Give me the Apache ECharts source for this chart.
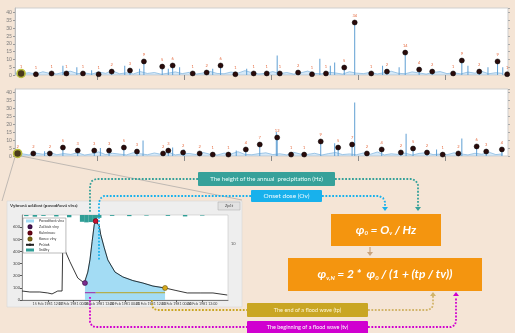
<!DOCTYPE html>
<html>
<head>
<meta charset="utf-8">
<script src="https://cdn.jsdelivr.net/npm/echarts@6/dist/echarts.min.js"></script>
<style>
  html, body { margin: 0; padding: 0; background: #f5e5d6; }
  #chart { width: 515px; height: 333px; }
</style>
</head>
<body>
<div id="chart"></div>
<script>
// ---- Long-term record (decimal years) shown in the two overview panels ----
const spanStart = 1981.06;
const spanEnd = 1986.72;
const yearTicks = [1982, 1983, 1984, 1985, 1986];
const noiseStep = 0.08;

// background precipitation level, one value every noiseStep years
const topNoise = [1.2,0.8,1.5,0.6,2.1,1.0,0.7,1.8,2.4,0.9,1.3,0.6,1.9,1.1,2.6,0.8,1.4,0.7,2.2,1.0,1.6,0.5,1.2,2.0,0.9,1.7,0.6,1.3,2.3,1.0,0.8,1.9,1.2,2.8,1.5,0.7,1.1,2.2,0.9,1.6,0.6,1.4,2.5,1.0,0.8,1.8,1.3,0.6,2.1,1.2,0.9,1.7,0.7,1.5,2.4,1.1,0.8,2.0,1.3,0.6,1.6,2.2,0.9,1.4,0.7,1.9,1.2,2.3,0.8,1.5,1.0];
const bottomNoise = [0.9,1.4,0.7,1.8,1.1,2.3,0.8,1.5,1.0,2.0,0.6,1.3,2.6,0.9,1.7,1.2,0.7,2.1,1.4,0.8,1.9,1.0,2.4,0.7,1.3,1.6,0.9,2.2,1.1,0.6,1.8,1.3,2.7,1.0,0.8,1.5,2.0,0.9,1.4,0.7,2.3,1.2,1.0,1.7,0.6,1.5,2.2,0.9,1.3,0.8,1.9,1.1,2.5,0.7,1.4,1.0,1.8,0.6,1.6,2.1,0.9,1.2,0.8,2.0,1.3,0.7,1.7,1.1,2.4,0.9,1.3];

// isolated precipitation spikes [year, value]
const topSpikes = [[1981.61,6],[1981.77,5],[1981.94,3],[1982.32,6],[1982.49,4],[1982.82,4],[1982.95,5],[1983.33,4],[1983.72,4],[1984.07,12.5],[1984.56,10.5],[1984.68,6],[1984.73,8],[1985.28,6],[1985.47,5],[1986.26,6],[1986.49,5],[1986.66,5]];
const bottomSpikes = [[1981.40,3],[1982.04,5],[1982.53,9.7],[1982.87,5.3],[1983.00,4],[1983.60,3.5],[1984.06,15],[1984.73,8],[1984.96,33.5],[1985.55,14],[1985.90,4],[1986.19,11]];

// detected flood events [year, value]; the first one is the selected event
const topEvents = [[1981.13,1.0],[1981.30,0.5],[1981.48,1.0],[1981.65,1.0],[1981.84,1.0],[1982.02,0.5],[1982.17,2.2],[1982.38,2.9],[1982.54,8.7],[1982.75,5.4],[1982.87,6.1],[1983.10,1.0],[1983.26,1.6],[1983.42,6.1],[1983.59,0.5],[1983.80,1.0],[1983.95,1.0],[1984.10,1.0],[1984.31,1.6],[1984.47,0.5],[1984.63,1.0],[1984.84,4.8],[1984.96,33.7],[1985.15,1.0],[1985.33,2.2],[1985.54,14.4],[1985.70,3.5],[1985.85,2.2],[1986.09,1.0],[1986.19,9.3],[1986.39,2.2],[1986.60,8.7],[1986.71,0.5]];
const bottomEvents = [[1981.09,1.6],[1981.27,1.6],[1981.46,1.6],[1981.61,5.3],[1981.78,3.4],[1981.97,3.4],[1982.14,3.4],[1982.31,5.3],[1982.46,2.8],[1982.76,1.6],[1982.82,3.4],[1982.99,2.2],[1983.18,1.6],[1983.33,0.9],[1983.51,0.9],[1983.71,4.1],[1983.87,7.2],[1984.07,11.6],[1984.23,0.9],[1984.38,0.9],[1984.57,9.1],[1984.77,5.3],[1984.93,7.2],[1985.10,1.6],[1985.27,4.1],[1985.49,2.2],[1985.63,4.7],[1985.79,2.2],[1985.97,0.9],[1986.15,1.6],[1986.36,6.0],[1986.47,2.8],[1986.65,4.1]];

// ---- Selected event (detail view) ----
const eventBase = Date.UTC(1981, 1, 14, 0, 0);
const eventHours = [0,11,25,36,42,50,56,57,67,78,87,88,92,95,98,101,103,108,110,115,120,130,141,155,169,183,200,214,231,249,267,287];
const eventFlow  = [74,66,66,58,50,74,74,450,315,181,140,140,230,330,480,620,650,610,540,430,330,230,190,160,140,115,99,80,58,58,58,41];
const precipHours = [6,18,30,48,66,84,90,96,102,108,126,150,174,204,228,252];
const precipVals  = [0.4,0.6,0.3,0.5,0.8,2.4,2.6,2.5,2.3,1.0,0.3,0.4,0.2,0.3,0.5,0.2];
const waveStart = 88, wavePeak = 103, waveEnd = 200;
const durationLevel = 60;
const months = ['Jan','Feb','Mar','Apr','May','Jun','Jul','Aug','Sep','Oct','Nov','Dec'];

const flowData = eventHours.map((h, i) => [h, eventFlow[i]]);
const flowAt = h => eventFlow[eventHours.indexOf(h)];
const waveData = flowData.filter(p => p[0] >= waveStart && p[0] <= waveEnd);
const precipData = precipHours.map((h, i) => [h, precipVals[i]]);

function fmtDate(h) {
  const d = new Date(eventBase + h * 3600e3);
  const p = n => String(n).padStart(2, '0');
  return d.getUTCDate() + ' ' + months[d.getUTCMonth()] + ' ' + d.getUTCFullYear() + ' ' + p(d.getUTCHours()) + ':' + p(d.getUTCMinutes());
}

const stemColor = '#5f9fd3';
function panelSeries(xi, yi, noise, spikes, events) {
  return [
    { type: 'line', xAxisIndex: xi, yAxisIndex: yi, silent: true, symbol: 'none',
      data: noise.map((v, i) => [spanStart + i * noiseStep, v]),
      lineStyle: { color: '#7db2dc', width: 0.7 },
      areaStyle: { color: 'rgba(140,192,236,0.5)' }, z: 2 },
    { type: 'bar', xAxisIndex: xi, yAxisIndex: yi, silent: true, data: spikes,
      barWidth: 1, barGap: '-100%', itemStyle: { color: stemColor }, z: 3 },
    { type: 'bar', xAxisIndex: xi, yAxisIndex: yi, silent: true, data: events,
      barWidth: 1, barGap: '-100%', itemStyle: { color: stemColor }, z: 3 },
    { type: 'scatter', xAxisIndex: xi, yAxisIndex: yi, data: events, symbolSize: 5,
      itemStyle: { color: '#2a0b0b', borderColor: '#000', borderWidth: 0.5, opacity: 1 },
      label: { show: true, position: 'top', distance: 2, fontSize: 4, color: '#e4683c',
               formatter: p => Math.round(p.value[1]) }, z: 5 },
    { type: 'scatter', xAxisIndex: xi, yAxisIndex: yi, data: [events[0]], symbolSize: 8,
      itemStyle: { color: '#4a3a1c', borderColor: '#b9bd3c', borderWidth: 1.6, opacity: 1 }, z: 6 }
  ];
}

const overviewX = gi => ({
  gridIndex: gi, type: 'value', min: spanStart, max: spanEnd, position: 'top',
  axisLine: { show: false },
  axisTick: { show: true, inside: true, length: 5, customValues: yearTicks, lineStyle: { color: '#8a8a8a' } },
  axisLabel: { show: false }, splitLine: { show: false }
});
const overviewY = (gi, max) => ([
  { gridIndex: gi, type: 'value', min: 0, max: max, interval: 5,
    axisLine: { show: true, lineStyle: { color: '#bdbdbd' } },
    axisTick: { show: true, length: 2, lineStyle: { color: '#999' } },
    axisLabel: { fontSize: 5, color: '#7a7a7a', margin: 3, showMaxLabel: false, fontFamily: 'Lato' },
    splitLine: { show: false } },
  { gridIndex: gi, type: 'value', min: 0, max: max, interval: 5, position: 'right',
    axisLine: { show: false },
    axisTick: { show: true, length: 2, lineStyle: { color: '#aaa' } },
    axisLabel: { show: false }, splitLine: { show: false } }
]);

// ---- Annotation helpers ----
const dotted = (pts, color) => ({
  type: 'polyline', z: 100, shape: { points: pts },
  style: { stroke: color, lineWidth: 1.8, lineDash: [1.8, 1.6], fill: null }
});
const arrow = (x, y, dir, color) => ({
  type: 'polygon', z: 101,
  shape: { points: dir === 'down' ? [[x - 3, y - 4], [x + 3, y - 4], [x, y]] : [[x - 3, y + 4], [x + 3, y + 4], [x, y]] },
  style: { fill: color }
});
const box = (x, y, w, h, fill, text, fontSize, color) => ([
  { type: 'rect', z: 100, shape: { x: x, y: y, width: w, height: h, r: 1 }, style: { fill: fill } },
  { type: 'text', z: 101, x: x + w / 2, y: y + h / 2,
    style: { text: text, fill: color, fontSize: fontSize, fontFamily: 'Lato', align: 'center', verticalAlign: 'middle' } }
]);
const formulaRich = {
  i: { fontSize: 12, fontWeight: 'bold', fontStyle: 'italic', fill: '#fff', fontFamily: 'Lato' },
  s: { fontSize: 6, fontWeight: 'bold', fontStyle: 'italic', fill: '#fff', fontFamily: 'Lato', padding: [7, 0, 0, 0] }
};

const teal = '#36a19a', sky = '#18b1ec', olive = '#c9a623', magenta = '#d000d0', orange = '#f4950f';

const graphics = [
  // detail panel frame
  { type: 'rect', z: -10, shape: { x: 7, y: 201, width: 235, height: 106 }, style: { fill: '#eeeeee', stroke: '#d6d6d6', lineWidth: 0.6 } },
  { type: 'text', z: 5, x: 10, y: 203, style: { text: 'Vybraná událost (povodňová vlna)', fontSize: 4.5, fontWeight: 'bold', fill: '#333', fontFamily: 'Lato' } },
  { type: 'rect', z: 5, shape: { x: 218, y: 202, width: 22, height: 8 }, style: { fill: '#e2e2e2', stroke: '#aaa', lineWidth: 0.5 } },
  { type: 'text', z: 6, x: 229, y: 206, style: { text: 'Zpět', fontSize: 4, fill: '#444', fontFamily: 'Lato', align: 'center', verticalAlign: 'middle' } },
  // lens lines from the selected event to the detail panel
  { type: 'line', z: 50, shape: { x1: 15, y1: 157, x2: 2, y2: 201 }, style: { stroke: '#9a9a9a', lineWidth: 0.6 } },
  { type: 'line', z: 50, shape: { x1: 21, y1: 156, x2: 242, y2: 200 }, style: { stroke: '#9a9a9a', lineWidth: 0.6 } },
  // connectors
  dotted([[198, 179], [96, 179], [92, 181], [90, 185], [90, 213]], teal),
  dotted([[335, 179], [412, 179], [416, 181], [418, 185], [418, 207]], teal),
  arrow(418, 211, 'down', teal),
  dotted([[251, 196], [104, 196], [101, 198], [99, 202], [99, 260]], sky),
  dotted([[322, 196], [379, 196], [383, 198], [385, 202], [385, 207]], sky),
  arrow(385, 211, 'down', sky),
  dotted([[152, 300], [152, 306], [154, 309], [157, 310], [247, 310]], olive),
  dotted([[368, 310], [428, 310], [432, 308], [433, 304], [433, 296]], '#d2b46a'),
  arrow(433, 292, 'up', '#d2b46a'),
  dotted([[90, 297], [90, 322], [92, 326], [95, 327], [247, 327]], magenta),
  dotted([[368, 327], [451, 327], [455, 325], [456, 321], [456, 297]], magenta),
  arrow(456, 292, 'up', magenta),
  { type: 'line', z: 100, shape: { x1: 370, y1: 247, x2: 370, y2: 252 }, style: { stroke: '#c9a27c', lineWidth: 1.2 } },
  arrow(370, 256, 'down', '#c9a27c'),
  ...box(198, 172, 137, 14, teal, 'The height of the annual  precipitation (Hz)', 6, '#eafffb'),
  ...box(251, 190, 71, 12, sky, 'Onset dose (Ov)', 6.5, '#f2fbff'),
  ...box(247, 303, 121, 14, olive, 'The end of a flood wave (tp)', 5.5, '#fff7d6'),
  ...box(247, 321, 121, 13, magenta, 'The beginning of a flood wave (tv)', 5.5, '#ffffff'),
  { type: 'rect', z: 100, shape: { x: 331, y: 214, width: 110, height: 32 }, style: { fill: orange } },
  { type: 'text', z: 101, x: 386, y: 230,
    style: { text: '{i|φ}{s|0}{i| = O}{s|v}{i| / Hz}', rich: formulaRich, align: 'center', verticalAlign: 'middle' } },
  { type: 'rect', z: 100, shape: { x: 288, y: 258, width: 194, height: 33 }, style: { fill: orange } },
  { type: 'text', z: 101, x: 385, y: 274.5,
    style: { text: '{i|φ}{s|v,N}{i| = 2 *  φ}{s|0}{i| / (1 + (tp / tv))}', rich: formulaRich, align: 'center', verticalAlign: 'middle' } }
];

const chart = echarts.init(document.getElementById('chart'), null, { renderer: 'canvas' });
chart.setOption({
  animation: false,
  backgroundColor: '#f5e5d6',
  textStyle: { fontFamily: 'Lato' },
  grid: [
    { left: 15, top: 8, width: 493, height: 67, show: true, backgroundColor: '#fff', borderColor: '#cfcfcf', borderWidth: 1 },
    { left: 15, top: 89, width: 493, height: 67, show: true, backgroundColor: '#fff', borderColor: '#cfcfcf', borderWidth: 1 },
    { left: 22, top: 215, width: 206, height: 85, show: true, backgroundColor: '#fff', borderColor: '#bbb', borderWidth: 0.5 }
  ],
  xAxis: [
    overviewX(0),
    overviewX(1),
    { gridIndex: 2, type: 'value', min: 0, max: 288, interval: 36,
      axisLine: { lineStyle: { color: '#333', width: 0.6 } },
      axisTick: { length: 2, lineStyle: { color: '#555' } },
      axisLabel: { fontSize: 3.6, color: '#444', margin: 2, formatter: fmtDate },
      splitLine: { show: false } }
  ],
  yAxis: [
    ...overviewY(0, 43),
    ...overviewY(1, 42),
    { gridIndex: 2, type: 'value', min: 0, max: 700, interval: 100,
      axisLine: { show: true, lineStyle: { color: '#555', width: 0.6 } },
      axisTick: { show: true, length: 2 },
      axisLabel: { fontSize: 4, color: '#444', margin: 2, showMaxLabel: false },
      splitLine: { show: false } },
    { gridIndex: 2, type: 'value', min: 0, max: 30, inverse: true, position: 'right',
      axisLine: { show: false }, axisTick: { show: false },
      axisLabel: { customValues: [10], fontSize: 4, color: '#555', margin: 3 },
      splitLine: { show: false } }
  ],
  legend: {
    left: 23, top: 218, orient: 'vertical', selectedMode: false,
    data: [{ name: 'Povodňová vlna', icon: 'rect' }, 'Začátek vlny', 'Kulminace', 'Konec vlny', 'Průtok', { name: 'Srážky', icon: 'rect' }],
    itemWidth: 8, itemHeight: 3, itemGap: 1.2, padding: [1, 2],
    textStyle: { fontSize: 3.6, color: '#333' },
    backgroundColor: '#fff', borderColor: '#777', borderWidth: 0.5
  },
  series: [
    ...panelSeries(0, 0, topNoise, topSpikes, topEvents),
    ...panelSeries(1, 2, bottomNoise, bottomSpikes, bottomEvents),
    { type: 'line', name: 'Povodňová vlna', xAxisIndex: 2, yAxisIndex: 4, data: waveData, symbol: 'none',
      lineStyle: { color: '#4fb4e0', width: 0.6 }, itemStyle: { color: '#a3dcf4' },
      areaStyle: { color: '#a3dcf4', opacity: 1 }, z: 2 },
    { type: 'bar', name: 'Srážky', xAxisIndex: 2, yAxisIndex: 5, data: precipData, barWidth: 4.4,
      itemStyle: { color: '#2f9e96' }, z: 2 },
    { type: 'line', name: 'Průtok', xAxisIndex: 2, yAxisIndex: 4, data: flowData, symbol: 'none',
      lineStyle: { color: '#222', width: 0.9 }, itemStyle: { color: '#222' }, z: 3 },
    { type: 'line', xAxisIndex: 2, yAxisIndex: 4, symbol: 'none',
      data: [[waveStart, durationLevel], [wavePeak, durationLevel]], lineStyle: { color: '#a020a0', width: 1 }, z: 4 },
    { type: 'line', xAxisIndex: 2, yAxisIndex: 4, symbol: 'none',
      data: [[wavePeak, durationLevel], [waveEnd, durationLevel]], lineStyle: { color: '#b9a424', width: 1 }, z: 4 },
    { type: 'scatter', name: 'Začátek vlny', xAxisIndex: 2, yAxisIndex: 4, data: [[waveStart, flowAt(waveStart)]],
      symbolSize: 5, itemStyle: { color: '#7b2d8e', borderColor: '#3a0f45', borderWidth: 0.6, opacity: 1 }, z: 6 },
    { type: 'scatter', name: 'Kulminace', xAxisIndex: 2, yAxisIndex: 4, data: [[wavePeak, flowAt(wavePeak)]],
      symbolSize: 5, itemStyle: { color: '#c8102e', borderColor: '#5a0010', borderWidth: 0.6, opacity: 1 }, z: 6 },
    { type: 'scatter', name: 'Konec vlny', xAxisIndex: 2, yAxisIndex: 4, data: [[waveEnd, flowAt(waveEnd)]],
      symbolSize: 5, itemStyle: { color: '#d8a81c', borderColor: '#6b5a10', borderWidth: 0.6, opacity: 1 }, z: 6 }
  ],
  graphic: { elements: graphics }
});
</script>
</body>
</html>
